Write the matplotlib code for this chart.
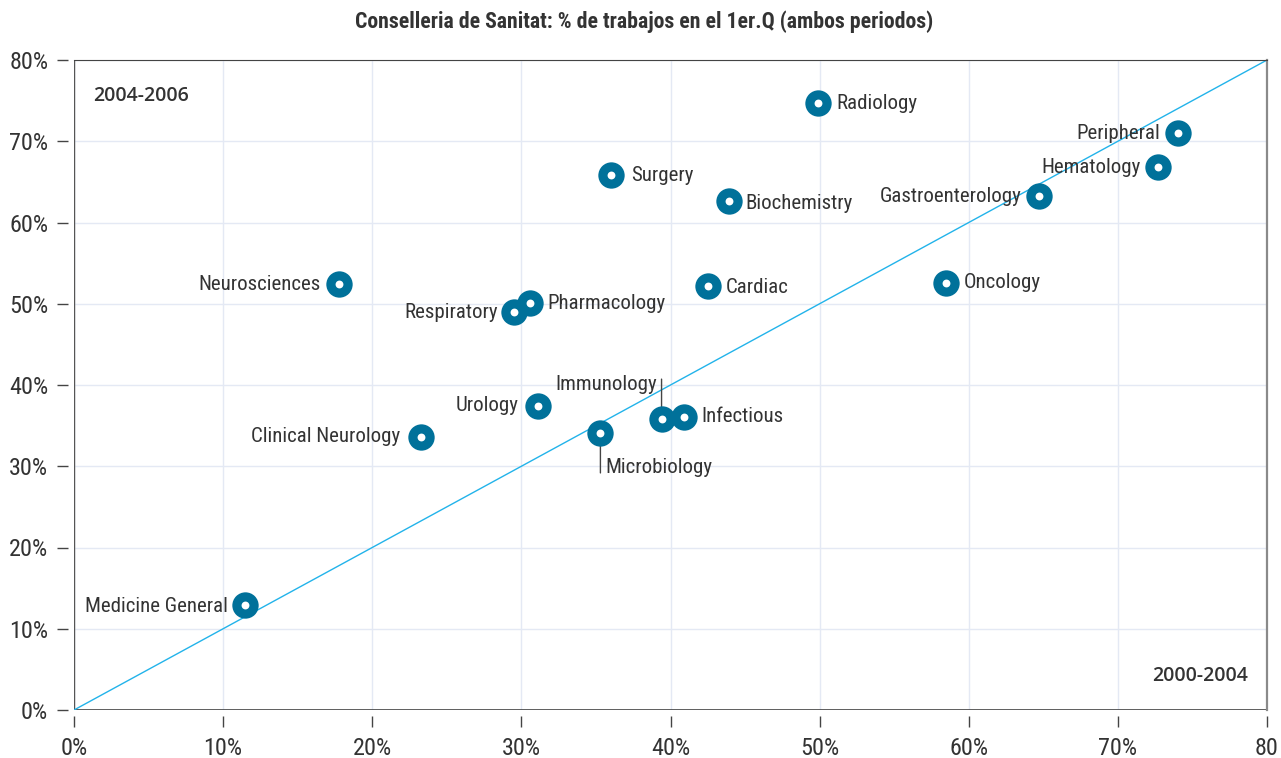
import matplotlib.pyplot as plt
from matplotlib import font_manager
from matplotlib.font_manager import FontProperties
from matplotlib.textpath import TextPath
from matplotlib.ticker import FuncFormatter

# ============ data ============
labels = ['Radiology', 'Peripheral', 'Hematology', 'Gastroenterology', 'Surgery',
          'Biochemistry', 'Neurosciences', 'Cardiac', 'Oncology', 'Respiratory',
          'Pharmacology', 'Urology', 'Immunology', 'Infectious', 'Microbiology',
          'Clinical Neurology', 'Medicine General']
x_2000_2004 = [49.9, 74.0, 72.7, 64.7, 36.0, 43.9, 17.8, 42.5, 58.5, 29.5,
               30.6, 31.1, 39.4, 40.9, 35.3, 23.3, 11.5]
y_2004_2006 = [74.7, 71.0, 66.8, 63.3, 65.8, 62.6, 52.4, 52.2, 52.6, 49.0,
               50.1, 37.4, 35.8, 36.1, 34.1, 33.6, 12.9]
ticks = [0, 10, 20, 30, 40, 50, 60, 70, 80]

# label placement: (dx px, dy px, alignment, leader line direction)
layout = {
    'Radiology': (18, 0, 'left', 0),
    'Peripheral': (-17, 0, 'right', 0),
    'Hematology': (-17, 0, 'right', 0),
    'Gastroenterology': (-17, -1, 'right', 0),
    'Surgery': (20, 0, 'left', 0),
    'Biochemistry': (17, -2, 'left', 0),
    'Neurosciences': (-19, 0, 'right', 0),
    'Cardiac': (18, -2, 'left', 0),
    'Oncology': (17, 0, 'left', 0),
    'Respiratory': (-16, -1, 'right', 0),
    'Pharmacology': (17, -1, 'left', 0),
    'Urology': (-19, 1, 'right', 0),
    'Immunology': (-4, 35, 'right', 1),
    'Infectious': (17, 0, 'left', 0),
    'Microbiology': (5, -35, 'left', -1),
    'Clinical Neurology': (-21, 0, 'right', 0),
    'Medicine General': (-18, -1, 'right', 0),
}

TEXT = '#333333'
DOT = '#00719a'


# ============ font helpers ============
def narrow_font(bold=False):
    """pick a narrow/condensed font file that is installed"""
    want = 700 if bold else 400
    prefs = [('Liberation Sans Narrow', None), ('Roboto Condensed', None),
             ('Open Sans Condensed', None), ('Noto Sans', 'condensed'),
             ('Open Sans', 'condensed'), ('DejaVu Sans', 'condensed'),
             ('Noto Sans', 'semi-condensed'), ('Open Sans', 'semi-condensed')]
    fl = [f for f in font_manager.fontManager.ttflist if f.style == 'normal']
    for name, stretch in prefs:
        cand = [f for f in fl if f.name == name and (stretch is None or f.stretch == stretch)]
        if cand:
            best = min(cand, key=lambda f: abs(int(f.weight) - want) if str(f.weight).isdigit() else 300)
            return FontProperties(fname=best.fname)
    return FontProperties(family='DejaVu Sans', weight='bold' if bold else 'normal')


def fit_size(text, prop, px):
    w = TextPath((0, 0), text, size=1, prop=prop).get_extents().width
    return px * 72 / (100 * w)


fp = narrow_font()
fpb = narrow_font(bold=True)
label_fs = fit_size('Radiology', fp, 79)
tick_fs = fit_size('70%', fp, 37)
title_fs = fit_size('Conselleria de Sanitat: % de trabajos en el 1er.Q (ambos periodos)', fpb, 575)

fig = plt.figure(figsize=(12.81, 7.58), dpi=100)
ax = fig.add_axes([74 / 1281, 48 / 758, 1193 / 1281, 650 / 758])
ax.set_xlim(0, 80)
ax.set_ylim(0, 80)

# grid
ax.set_xticks(ticks)
ax.set_yticks(ticks)
ax.grid(True, color='#e4e9f4', linewidth=1)
ax.set_axisbelow(True)

# spines: ticks sit a little away from the frame
for s in ['bottom', 'left']:
    ax.spines[s].set_position(('outward', 4.5))
    ax.spines[s].set_visible(False)
ax.spines['top'].set_color('#444444')
ax.spines['right'].set_color('#8a8a8a')
ax.spines['right'].set_linewidth(1.6)
ax.axhline(0, color='#444444', linewidth=1.2, zorder=2)
ax.axvline(0, color='#555555', linewidth=1.0, zorder=2)

ax.tick_params(axis='both', length=8, width=1, color='#444444', labelcolor=TEXT)
ax.tick_params(axis='x', pad=7)
ax.tick_params(axis='y', pad=6)
ax.xaxis.set_major_formatter(FuncFormatter(lambda v, p: '80' if v == 80 else f'{v:.0f}%'))
ax.yaxis.set_major_formatter(FuncFormatter(lambda v, p: f'{v:.0f}%'))
for lab in ax.get_xticklabels() + ax.get_yticklabels():
    lab.set_fontproperties(fp)
    lab.set_fontsize(tick_fs)

# diagonal
ax.plot([0, 80], [0, 80], color='#22b3ea', linewidth=1.0, zorder=2)

# points
ax.scatter(x_2000_2004, y_2004_2006, s=360, color=DOT, zorder=4, linewidths=0)
ax.scatter(x_2000_2004, y_2004_2006, s=32, color='white', zorder=5, linewidths=0)

# labels (+ leader lines where the label is moved away)
for name, x, y in zip(labels, x_2000_2004, y_2004_2006):
    dx, dy, ha, lead = layout[name]
    t = ax.annotate(name, (x, y), xytext=(dx, dy), textcoords='offset pixels',
                    ha=ha, va='center', color=TEXT, zorder=6)
    t.set_fontproperties(fp)
    t.set_fontsize(label_fs)
    if lead:
        ax.annotate('', (x, y), xytext=(0, lead * 40), textcoords='offset pixels',
                    zorder=3,
                    arrowprops=dict(arrowstyle='-', color='#444444', lw=1,
                                    shrinkA=0, shrinkB=0))

# period labels
ax.text(0.016, 0.944, '2004-2006', transform=ax.transAxes, ha='left', va='center',
        fontsize=14, color=TEXT, family=['Open Sans', 'DejaVu Sans'], weight='semibold')
ax.text(0.984, 0.052, '2000-2004', transform=ax.transAxes, ha='right', va='center',
        fontsize=14, color=TEXT, family=['Open Sans', 'DejaVu Sans'], weight='semibold')

# title
tt = fig.text(644 / 1281, 1 - 22 / 758,
              'Conselleria de Sanitat: % de trabajos en el 1er.Q (ambos periodos)',
              ha='center', va='center', color=TEXT)
tt.set_fontproperties(fpb)
tt.set_fontsize(title_fs)

fig.savefig('out.png', dpi=100)
